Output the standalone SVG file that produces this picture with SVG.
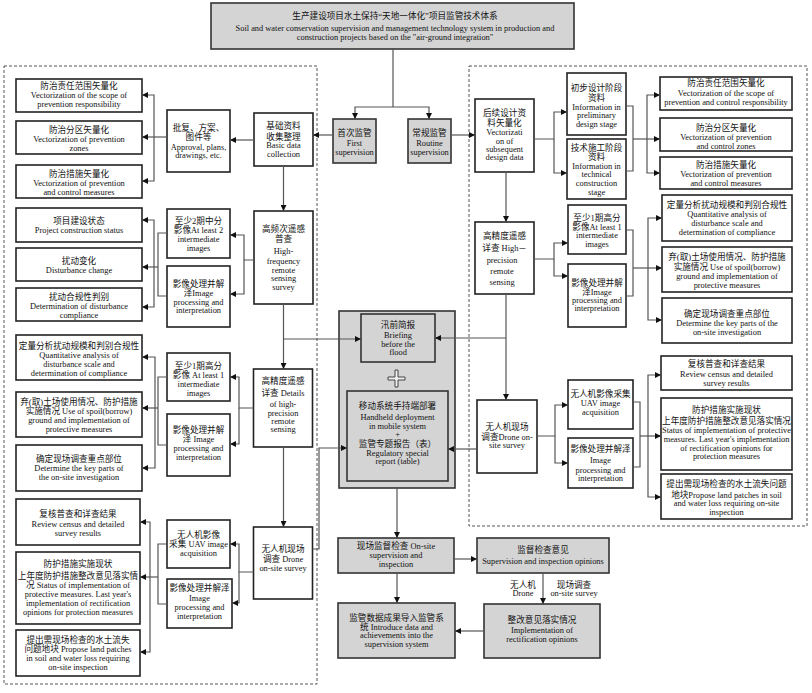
<svg xmlns="http://www.w3.org/2000/svg" width="812" height="693" viewBox="0 0 812 693">
<defs>
<style>
.b{fill:#fff;stroke:#222;stroke-width:1.6}
.g{fill:#d4d4d4;stroke:#333;stroke-width:1.6}
.d{fill:none;stroke:#555;stroke-width:1;stroke-dasharray:3,2}
.t{font-family:"Liberation Serif","Noto Sans CJK SC",serif;font-size:8.4px;text-anchor:middle;fill:#111}
.c{font-size:8.6px}
.l{fill:none;stroke:#555;stroke-width:1.2}
.a{marker-end:url(#ar)}
</style>
<marker id="ar" viewBox="0 0 10 10" refX="10" refY="5" markerWidth="7" markerHeight="6" markerUnits="userSpaceOnUse" orient="auto"><path d="M0,0 L10,5 L0,10 z" fill="#111"/></marker>
</defs>
<rect width="812" height="693" fill="#fff"/>

<rect class="d" x="4" y="66" width="313" height="618"/>
<rect class="d" x="469" y="66" width="338" height="460"/>

<g id="top">
<rect class="g" x="211" y="3" width="363" height="46"/>
<text class="t c" x="395" y="19" font-size="9" font-family="Noto Sans CJK SC, sans-serif">生产建设项目水土保持“天地一体化”项目监管技术体系</text>
<text class="t" x="395" y="31" font-size="8.2">Soil and water conservation supervision and management technology system in production and</text>
<text class="t" x="395" y="40" font-size="8.2">construction projects based on the "air-ground integration"</text>
</g>

<g id="first">
<rect class="g" x="333" y="119" width="43" height="44"/>
<text class="t c" x="354.5" y="136">首次监管</text>
<text class="t" x="354.5" y="146">First</text>
<text class="t" x="354.5" y="155">supervision</text>
</g>
<g id="routine">
<rect class="g" x="408" y="119" width="43" height="44"/>
<text class="t c" x="429.5" y="136">常规监管</text>
<text class="t" x="429.5" y="146">Routine</text>
<text class="t" x="429.5" y="155">supervision</text>
</g>

<!-- left column -->
<g id="L1"><rect class="b" x="16" y="79" width="126" height="33"/>
<text class="t c" x="79" y="89">防治责任范围矢量化</text><text class="t" x="79" y="98">Vectorization of the scope of</text><text class="t" x="79" y="107">prevention responsibility</text></g>
<g id="L2"><rect class="b" x="16" y="121" width="126" height="33"/>
<text class="t c" x="79" y="133">防治分区矢量化</text><text class="t" x="79" y="142">Vectorization of prevention</text><text class="t" x="79" y="151">zones</text></g>
<g id="L3"><rect class="b" x="16" y="165" width="126" height="33"/>
<text class="t c" x="79" y="177">防治措施矢量化</text><text class="t" x="79" y="186">Vectorization of prevention</text><text class="t" x="79" y="195">and control measures</text></g>
<g id="L4"><rect class="b" x="16" y="208" width="126" height="34"/>
<text class="t c" x="79" y="224">项目建设状态</text><text class="t" x="79" y="233">Project construction status</text></g>
<g id="L5"><rect class="b" x="16" y="248" width="126" height="33"/>
<text class="t c" x="79" y="264">扰动变化</text><text class="t" x="79" y="273">Disturbance change</text></g>
<g id="L6"><rect class="b" x="16" y="288" width="126" height="33"/>
<text class="t c" x="79" y="300">扰动合规性判别</text><text class="t" x="79" y="309">Determination of disturbance</text><text class="t" x="79" y="318">compliance</text></g>
<g id="L7"><rect class="b" x="16" y="335" width="126" height="45"/>
<text class="t c" x="79" y="349">定量分析扰动规模和判别合规性</text><text class="t" x="79" y="358">Quantitative analysis of</text><text class="t" x="79" y="367">disturbance scale and</text><text class="t" x="79" y="376">determination of compliance</text></g>
<g id="L8"><rect class="b" x="16" y="392" width="126" height="45"/>
<text class="t c" x="79" y="405">弃(取)土场使用情况、防护措施</text><text class="t" x="79" y="414"><tspan class="c">实施情况</tspan> Use of spoil(borrow)</text><text class="t" x="79" y="423">ground and implementation of</text><text class="t" x="79" y="432">protective measures</text></g>
<g id="L9"><rect class="b" x="16" y="445" width="126" height="46"/>
<text class="t c" x="79" y="462">确定现场调查重点部位</text><text class="t" x="79" y="471">Determine the key parts of</text><text class="t" x="79" y="480">the on-site investigation</text></g>
<g id="L10"><rect class="b" x="16" y="499" width="124" height="46"/>
<text class="t c" x="78" y="517">复核普查和详查结果</text><text class="t" x="78" y="527">Review census and detailed</text><text class="t" x="78" y="536">survey results</text></g>
<g id="L11"><rect class="b" x="16" y="552" width="124" height="72"/>
<text class="t c" x="78" y="567">防护措施实施现状</text><text class="t c" x="78" y="579">上年度防护措施整改意见落实情</text><text class="t" x="78" y="588"><tspan class="c">况</tspan> Status of implementation of</text><text class="t" x="78" y="597">protective measures. Last year's</text><text class="t" x="78" y="606">implementation of rectification</text><text class="t" x="78" y="615">opinions for protection measures</text></g>
<g id="L12"><rect class="b" x="16" y="630" width="124" height="46"/>
<text class="t c" x="78" y="643">提出需现场检查的水土流失</text><text class="t" x="78" y="652"><tspan class="c">问题地块</tspan>  Propose land patches</text><text class="t" x="78" y="661">in soil and water loss requiring</text><text class="t" x="78" y="670">on-site inspection</text></g>

<!-- left middle column -->
<g id="M1"><rect class="b" x="167" y="110" width="63" height="62"/>
<text class="t c" x="198.5" y="131">批复、方案、</text><text class="t c" x="198.5" y="140">图件等</text><text class="t" x="198.5" y="150">Approval, plans,</text><text class="t" x="198.5" y="158">drawings, etc.</text></g>
<g id="M2"><rect class="b" x="167" y="209" width="63" height="49"/>
<text class="t c" x="198.5" y="224">至少2期中分</text><text class="t" x="198.5" y="233"><tspan class="c">影像</tspan>At least 2</text><text class="t" x="198.5" y="242">intermediate</text><text class="t" x="198.5" y="251">images</text></g>
<g id="M3"><rect class="b" x="167" y="266" width="63" height="61"/>
<text class="t c" x="198.5" y="287">影像处理并解</text><text class="t" x="198.5" y="296"><tspan class="c">泽</tspan>Image</text><text class="t" x="198.5" y="305">processing and</text><text class="t" x="198.5" y="313">interpretation</text></g>
<g id="M4"><rect class="b" x="167" y="353" width="63" height="48"/>
<text class="t c" x="198.5" y="369">至少1期高分</text><text class="t" x="198.5" y="378"><tspan class="c">影像</tspan> At least 1</text><text class="t" x="198.5" y="387">intermediate</text><text class="t" x="198.5" y="396">images</text></g>
<g id="M5"><rect class="b" x="167" y="414" width="63" height="62"/>
<text class="t c" x="198.5" y="433">影像处理并解</text><text class="t" x="198.5" y="442"><tspan class="c">泽</tspan> Image</text><text class="t" x="198.5" y="451">processing and</text><text class="t" x="198.5" y="460">interpretation</text></g>
<g id="M6"><rect class="b" x="167" y="520" width="63" height="48"/>
<text class="t c" x="198.5" y="538">无人机影像</text><text class="t" x="198.5" y="547"><tspan class="c">采集</tspan> UAV image</text><text class="t" x="198.5" y="556">acquisition</text></g>
<g id="M7"><rect class="b" x="167" y="579" width="65" height="49"/>
<text class="t c" x="199.5" y="591">影像处理并解泽</text><text class="t" x="199.5" y="601">Image</text><text class="t" x="199.5" y="610">processing and</text><text class="t" x="199.5" y="619">interpretation</text></g>

<!-- left third column -->
<g id="N1"><rect class="b" x="254" y="113" width="59" height="53"/>
<text class="t c" x="283.5" y="129">基础资料</text><text class="t c" x="283.5" y="140">收集整理</text><text class="t" x="283.5" y="148">Basic data</text><text class="t" x="283.5" y="157">collection</text></g>
<g id="N2"><rect class="b" x="254" y="211" width="59" height="93"/>
<text class="t c" x="283.5" y="232">高频次遥感</text><text class="t c" x="283.5" y="242">普查</text><text class="t" x="283.5" y="254">High-</text><text class="t" x="283.5" y="264">frequency</text><text class="t" x="283.5" y="273">remote</text><text class="t" x="283.5" y="281">sensing</text><text class="t" x="283.5" y="290">survey</text></g>
<g id="N3"><rect class="b" x="253.5" y="369" width="59" height="78"/>
<text class="t c" x="283" y="384">高精度遥感</text><text class="t" x="283" y="396"><tspan class="c">详查</tspan> Details</text><text class="t" x="283" y="407">of high-</text><text class="t" x="283" y="416">precision</text><text class="t" x="283" y="424">remote</text><text class="t" x="283" y="432">sensing</text></g>
<g id="N4"><rect class="b" x="253.5" y="527" width="59" height="72"/>
<text class="t c" x="283" y="552">无人机现场</text><text class="t" x="283" y="562"><tspan class="c">调查</tspan> Drone</text><text class="t" x="283" y="571">on-site survey</text></g>

<!-- center -->
<g id="center">
<rect class="g" x="339" y="311" width="116" height="177"/>
<g id="flood"><rect class="g" x="361" y="314" width="74" height="48"/>
<text class="t c" x="398" y="328">汛前简报</text><text class="t" x="398" y="338">Briefing</text><text class="t" x="398" y="347">before the</text><text class="t" x="398" y="355">flood</text></g>
<path d="M395,370 h3 v7 h7 v3 h-7 v7 h-3 v-7 h-7 v-3 h7 z" fill="#eee" stroke="#333" stroke-width="0.9"/>
<g id="handheld"><rect class="g" x="347" y="391" width="101" height="90"/>
<text class="t c" x="397.5" y="409">移动系统手持端部署</text><text class="t" x="397.5" y="420">Handheld deployment</text><text class="t" x="397.5" y="429">in mobile system</text><text class="t" x="397.5" y="437">+</text><text class="t c" x="397.5" y="447">监管专题报告（表）</text><text class="t" x="397.5" y="456">Regulatory special</text><text class="t" x="397.5" y="464">report (table)</text></g>
</g>
<g id="onsite"><rect class="g" x="338" y="538" width="116" height="35"/>
<text class="t" x="396" y="549"><tspan class="c">现场监督检查</tspan> On-site</text><text class="t" x="396" y="558">supervision and</text><text class="t" x="396" y="567">inspection</text></g>
<g id="opinions"><rect class="g" x="477" y="538" width="132" height="35"/>
<text class="t c" x="543" y="553">监督检查意见</text><text class="t" x="543" y="564">Supervision and inspection opinions</text></g>
<g id="rectify"><rect class="g" x="484" y="604" width="116" height="54"/>
<text class="t c" x="542" y="623">整改意见落实情况</text><text class="t" x="542" y="633">Implementation of</text><text class="t" x="542" y="642">rectification opinions</text></g>
<g id="import"><rect class="g" x="338" y="603" width="117" height="55"/>
<text class="t c" x="396.5" y="621">监管数据成果导入监管系</text><text class="t" x="396.5" y="630"><tspan class="c">统</tspan> Introduce data and</text><text class="t" x="396.5" y="638">achievements into the</text><text class="t" x="396.5" y="647">supervision system</text></g>
<g id="lbl">
<text class="t c" x="523" y="588">无人机</text><text class="t" x="523" y="596">Drone</text>
<text class="t c" x="574" y="588">现场调查</text><text class="t" x="574" y="596">on-site survey</text>
</g>

<!-- right middle -->
<g id="R0"><rect class="b" x="475" y="99" width="59" height="73"/>
<text class="t c" x="504.5" y="116">后续设计资</text><text class="t c" x="504.5" y="126">料矢量化</text><text class="t" x="504.5" y="135">Vectorizati</text><text class="t" x="504.5" y="144">on of</text><text class="t" x="504.5" y="152">subsequent</text><text class="t" x="504.5" y="160">design data</text></g>
<g id="RA"><rect class="b" x="567" y="73" width="59" height="62"/>
<text class="t c" x="596.5" y="91">初步设计阶段</text><text class="t c" x="596.5" y="101">资料</text><text class="t" x="596.5" y="110">Information in</text><text class="t" x="596.5" y="118">preliminary</text><text class="t" x="596.5" y="127">design stage</text></g>
<g id="RB"><rect class="b" x="567" y="139" width="59" height="60"/>
<text class="t c" x="596.5" y="151">技术施工阶段</text><text class="t c" x="596.5" y="160">资料</text><text class="t" x="596.5" y="169">Information in</text><text class="t" x="596.5" y="177">technical</text><text class="t" x="596.5" y="186">construction</text><text class="t" x="596.5" y="195">stage</text></g>
<g id="R1"><rect class="b" x="475" y="222" width="59" height="72"/>
<text class="t c" x="504.5" y="239">高精度遥感</text><text class="t" x="504.5" y="251"><tspan class="c">详查</tspan> High－</text><text class="t" x="502" y="263">precision</text><text class="t" x="502" y="274">remote</text><text class="t" x="502" y="285">sensing</text></g>
<g id="RC"><rect class="b" x="568" y="205" width="58" height="49"/>
<text class="t c" x="597" y="221">至少1期高分</text><text class="t" x="597" y="230"><tspan class="c">影像</tspan>At least 1</text><text class="t" x="597" y="238">intermediate</text><text class="t" x="597" y="247">images</text></g>
<g id="RD"><rect class="b" x="568" y="264" width="58" height="63"/>
<text class="t c" x="597" y="286">影像处理并解</text><text class="t" x="597" y="295"><tspan class="c">泽</tspan>Image</text><text class="t" x="597" y="303">processing and</text><text class="t" x="597" y="311">interpretation</text></g>
<g id="R2"><rect class="b" x="477" y="400" width="60" height="73"/>
<text class="t c" x="507" y="430">无人机现场</text><text class="t" x="507" y="440"><tspan class="c">调查</tspan>Drone on-</text><text class="t" x="507" y="448">site survey</text></g>
<g id="RE"><rect class="b" x="568" y="380" width="65" height="49"/>
<text class="t c" x="600.5" y="397">无人机影像采集</text><text class="t" x="600.5" y="406">UAV image</text><text class="t" x="600.5" y="415">acquisition</text></g>
<g id="RF"><rect class="b" x="568" y="438" width="65" height="50"/>
<text class="t c" x="600.5" y="452">影像处理并解泽</text><text class="t" x="600.5" y="463">Image</text><text class="t" x="600.5" y="473">processing and</text><text class="t" x="600.5" y="481">interpretation</text></g>

<!-- right column -->
<g id="S1"><rect class="b" x="660" y="77" width="132" height="33"/>
<text class="t c" x="726" y="86">防治责任范围矢量化</text><text class="t" x="726" y="96">Vectorization of the scope of</text><text class="t" x="726" y="105">prevention and control responsibility</text></g>
<g id="S2"><rect class="b" x="660" y="118" width="132" height="33"/>
<text class="t c" x="726" y="131">防治分区矢量化</text><text class="t" x="726" y="140">Vectorization of prevention</text><text class="t" x="726" y="149">and control zones</text></g>
<g id="S3"><rect class="b" x="660" y="157" width="132" height="32"/>
<text class="t c" x="726" y="168">防治措施矢量化</text><text class="t" x="726" y="177">Vectorization of prevention</text><text class="t" x="726" y="186">and control measures</text></g>
<g id="S4"><rect class="b" x="662" y="195" width="130" height="46"/>
<text class="t c" x="727" y="208">定量分析扰动规模和判别合规性</text><text class="t" x="727" y="217">Quantitative analysis of</text><text class="t" x="727" y="226">disturbance scale and</text><text class="t" x="727" y="235">determination of compliance</text></g>
<g id="S5"><rect class="b" x="662" y="247" width="130" height="45"/>
<text class="t c" x="727" y="260">弃(取)土场使用情况、防护措施</text><text class="t" x="727" y="270"><tspan class="c">实施情况</tspan> Use of spoil(borrow)</text><text class="t" x="727" y="279">ground and implementation of</text><text class="t" x="727" y="288">protective measures</text></g>
<g id="S6"><rect class="b" x="662" y="298" width="130" height="45"/>
<text class="t c" x="727" y="317">确定现场调查重点部位</text><text class="t" x="727" y="326">Determine the key parts of the</text><text class="t" x="727" y="335">on-site investigation</text></g>
<g id="S7"><rect class="b" x="661" y="356" width="131" height="34"/>
<text class="t c" x="726.5" y="367">复核普查和详查结果</text><text class="t" x="726.5" y="377">Review census and detailed</text><text class="t" x="726.5" y="386">survey results</text></g>
<g id="S8"><rect class="b" x="661" y="398" width="131" height="72"/>
<text class="t c" x="726.5" y="413">防护措施实施现状</text><text class="t c" x="726.5" y="424">上年度防护措施整改意见落实情况</text><text class="t" x="726.5" y="433">Status of implementation of protective</text><text class="t" x="726.5" y="442">measures. Last year's implementation</text><text class="t" x="726.5" y="451">of rectification opinions for</text><text class="t" x="726.5" y="459">protection measures</text></g>
<g id="S9"><rect class="b" x="661" y="474" width="131" height="45"/>
<text class="t c" x="726.5" y="487">提出需现场检查的水土流失问题</text><text class="t" x="726.5" y="498"><tspan class="c">地块</tspan>Propose land patches in soil</text><text class="t" x="726.5" y="506">and water loss requiring on-site</text><text class="t" x="726.5" y="515">inspection</text></g>

<g id="connectors">
<path class="l" d="M393,49 V107"/>
<path class="l a" d="M393,107 H355 V119"/>
<path class="l a" d="M393,107 H429 V119"/>
<path class="l a" d="M333,135 H313"/>
<path class="l a" d="M254,140 H230"/>
<path class="l a" d="M167,137 H142"/>
<path class="l a" d="M154,137 V95 H142"/>
<path class="l a" d="M154,137 V181 H142"/>
<path class="l a" d="M283.5,166 V211"/>
<path class="l a" d="M254,260 H244 V235 H230"/>
<path class="l a" d="M244,260 V294 H230"/>
<path class="l" d="M167,233 H158 V296 H167"/>
<path class="l a" d="M158,267 H142"/>
<path class="l a" d="M154,267 V220 H142"/>
<path class="l a" d="M154,267 V307 H142"/>
<path class="l a" d="M283.5,304 V369"/>
<path class="l a" d="M283.5,339 H361"/>
<path class="l a" d="M253.5,408 H239 V377 H230"/>
<path class="l a" d="M239,408 V444 H230"/>
<path class="l" d="M167,377 H158 V445 H167"/>
<path class="l a" d="M158,408 H142"/>
<path class="l a" d="M155,408 V357 H142"/>
<path class="l a" d="M155,408 V468 H142"/>
<path class="l a" d="M283.5,447 V527"/>
<path class="l a" d="M253.5,572 H239 V544 H230"/>
<path class="l a" d="M239,572 V603 H232"/>
<path class="l" d="M167,544 H158 V604 H167"/>
<path class="l a" d="M158,577 H140"/>
<path class="l a" d="M150,577 V522 H140"/>
<path class="l a" d="M150,577 V652 H140"/>
<path class="l a" d="M312.5,549 H319 V448 H347"/>
<path class="l a" d="M451,135 H475"/>
<path class="l a" d="M534,139 H554 V112 H567"/>
<path class="l a" d="M554,139 V173 H567"/>
<path class="l" d="M626,106 H633 V171 H626"/>
<path class="l a" d="M633,139 H660"/>
<path class="l a" d="M647,139 V95 H660"/>
<path class="l a" d="M647,139 V173 H660"/>
<path class="l a" d="M506,172 V222"/>
<path class="l a" d="M534,259 H554 V243 H568"/>
<path class="l a" d="M554,259 V276 H568"/>
<path class="l" d="M626,230 H633 V296 H626"/>
<path class="l a" d="M633,268 H662"/>
<path class="l a" d="M648,268 V218 H662"/>
<path class="l a" d="M648,268 V320 H662"/>
<path class="l a" d="M506,294 V400"/>
<path class="l a" d="M506,338 H435"/>
<path class="l a" d="M537,436 H555 V405 H568"/>
<path class="l a" d="M555,436 V463 H568"/>
<path class="l" d="M633,402 H640 V467 H633"/>
<path class="l a" d="M640,436 H661"/>
<path class="l a" d="M648,436 V375 H661"/>
<path class="l a" d="M648,436 V497 H661"/>
<path class="l a" d="M477,449 H448"/>
<path class="l a" d="M397,488 V538"/>
<path class="l a" d="M454,559 H477"/>
<path class="l a" d="M543,573 V604"/>
<path class="l a" d="M484,631 H455"/>
<path class="l a" d="M397,573 V603"/>
</g>
</svg>
